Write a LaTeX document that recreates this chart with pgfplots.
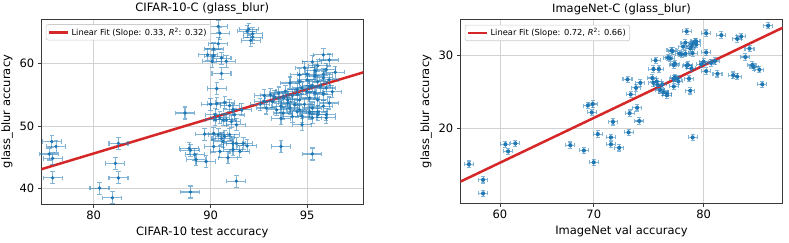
\documentclass[border=0pt]{standalone}
\usepackage{fontspec}
\setmainfont{DejaVu Sans}
\usepackage{pgfplots}
\pgfplotsset{compat=1.18}
\definecolor{tabblue}{HTML}{1F77B4}
\definecolor{tabred}{HTML}{D62728}
\definecolor{gridgray}{HTML}{D2D2D2}
\definecolor{frame}{HTML}{3A3A3A}
\newcommand\mainfs{\fontsize{11.5}{13.8}\selectfont}
\newcommand\legfs{\fontsize{8.3}{10}\selectfont}
% probit (inverse normal CDF) of a percentage, Abramowitz-Stegun 26.2.23
\newcommand\probitval[1]{%
  \begingroup
  \pgfkeys{/pgf/fpu=true,/pgf/fpu/output format=fixed}%
  \pgfmathparse{#1/100}\let\prP\pgfmathresult
  \pgfmathparse{\prP<0.5 ? \prP : 1-\prP}\let\prQ\pgfmathresult
  \pgfmathparse{sqrt(-2*ln(\prQ))}\let\prT\pgfmathresult
  \pgfmathparse{(\prP<0.5 ? -1 : 1)*(\prT-(2.515517+0.802853*\prT+0.010328*\prT*\prT)/(1+1.432788*\prT+0.189269*\prT*\prT+0.001308*\prT*\prT*\prT))}%
  \pgfmathsmuggle\pgfmathresult
  \endgroup}
% point with error-bar cross (sizes in pt)
\pgfdeclareplotmark{errA}{%
  \pgfsetlinewidth{1.1pt}\pgfsetstrokeopacity{0.55}%
  \pgfpathmoveto{\pgfqpoint{-9.5pt}{0pt}}\pgfpathlineto{\pgfqpoint{9.5pt}{0pt}}%
  \pgfpathmoveto{\pgfqpoint{-9.5pt}{-2.2pt}}\pgfpathlineto{\pgfqpoint{-9.5pt}{2.2pt}}%
  \pgfpathmoveto{\pgfqpoint{9.5pt}{-2.2pt}}\pgfpathlineto{\pgfqpoint{9.5pt}{2.2pt}}%
  \pgfpathmoveto{\pgfqpoint{0pt}{-6pt}}\pgfpathlineto{\pgfqpoint{0pt}{6pt}}%
  \pgfpathmoveto{\pgfqpoint{-2.2pt}{-6pt}}\pgfpathlineto{\pgfqpoint{2.2pt}{-6pt}}%
  \pgfpathmoveto{\pgfqpoint{-2.2pt}{6pt}}\pgfpathlineto{\pgfqpoint{2.2pt}{6pt}}%
  \pgfusepathqstroke
  \pgfsetstrokeopacity{1}%
  \pgfpathcircle{\pgfpointorigin}{1.9pt}\pgfusepathqfill}
\pgfdeclareplotmark{errB}{%
  \pgfsetlinewidth{1.1pt}\pgfsetstrokeopacity{0.55}%
  \pgfpathmoveto{\pgfqpoint{-4.5pt}{0pt}}\pgfpathlineto{\pgfqpoint{4.5pt}{0pt}}%
  \pgfpathmoveto{\pgfqpoint{-4.5pt}{-2pt}}\pgfpathlineto{\pgfqpoint{-4.5pt}{2pt}}%
  \pgfpathmoveto{\pgfqpoint{4.5pt}{-2pt}}\pgfpathlineto{\pgfqpoint{4.5pt}{2pt}}%
  \pgfpathmoveto{\pgfqpoint{0pt}{-3.2pt}}\pgfpathlineto{\pgfqpoint{0pt}{3.2pt}}%
  \pgfpathmoveto{\pgfqpoint{-2pt}{-3.2pt}}\pgfpathlineto{\pgfqpoint{2pt}{-3.2pt}}%
  \pgfpathmoveto{\pgfqpoint{-2pt}{3.2pt}}\pgfpathlineto{\pgfqpoint{2pt}{3.2pt}}%
  \pgfusepathqstroke
  \pgfsetstrokeopacity{1}%
  \pgfpathcircle{\pgfpointorigin}{2.1pt}\pgfusepathqfill}
\pgfplotsset{
  myax/.style={
    scale only axis, enlargelimits=false,
    x coord trafo/.code={\probitval{##1}},
    y coord trafo/.code={\probitval{##1}},
    axis line style={frame, line width=0.8pt},
    grid=major, major grid style={gridgray, line width=0.9pt},
    tick align=outside, major tick length=3.5pt,
    tick style={frame, line width=0.8pt},
    xtick pos=left, ytick pos=left,
    tick label style={font=\mainfs},
    label style={font=\mainfs},
    title style={font=\mainfs, yshift=-5pt},
    legend cell align=left,
    legend style={at={(0.014,0.972)}, anchor=north west, font=\legfs,
      draw={rgb,255:red,204;green,204;blue,204}, rounded corners=2pt,
      inner xsep=2pt, inner ysep=1.5pt, line width=0.6pt},
    legend image code/.code={\draw[##1] (0pt,0pt) -- (19pt,0pt);},
  }
}
\pgfplotstableread{
x y
75.3 47.5
75.8 46.7
75.0 45.5
75.4 44.8
75.4 41.7
82.5 47.2
82.2 44.0
82.5 41.7
80.6 40.1
81.9 38.6
88.2 52.1
88.5 46.4
88.6 46.1
88.9 45.4
89.0 44.6
89.7 44.3
88.6 39.5
89.6 48.7
90.5 65.6
90.6 64.6
90.5 63.0
90.2 62.2
90.2 61.1
90.1 60.3
90.7 60.8
91.0 60.3
90.7 58.4
89.8 61.3
92.3 65.2
92.5 64.5
92.4 63.5
92.2 64.9
92.5 64.0
90.4 56.0
90.0 53.5
90.4 53.6
90.9 53.8
91.2 53.3
91.4 52.6
90.3 51.8
90.6 51.3
91.0 51.0
91.3 50.7
91.5 51.8
91.6 50.2
91.9 52.6
90.2 48.8
90.5 48.6
90.7 48.0
90.9 48.3
91.2 48.6
91.4 47.2
91.6 47.2
92.0 47.2
91.8 45.9
92.2 46.8
90.6 45.9
91.1 44.9
91.4 46.2
91.6 41.2
90.2 46.7
90.8 47.5
90.3 51.0
90.8 51.0
93.9 46.7
95.2 45.5
94.8 50.2
93.9 51.2
94.4 51.5
95.1 52.3
95.4 52.3
95.7 51.8
95.6 61.3
95.8 60.5
95.2 60.2
95.4 59.6
95.7 59.0
94.9 59.3
96.0 58.6
94.7 58.2
95.3 58.0
95.6 57.7
95.8 57.4
95.0 57.4
94.7 57.1
94.3 56.9
95.2 56.5
95.5 56.4
95.7 56.1
94.8 56.1
94.6 55.8
94.1 55.6
93.8 55.3
93.4 55.0
93.1 54.9
93.6 54.7
94.0 54.5
94.4 54.9
95.0 55.5
95.3 55.3
95.6 55.1
95.9 55.5
95.1 54.5
95.4 54.2
94.7 54.2
94.2 53.7
94.5 53.4
93.5 53.9
93.1 54.0
93.9 53.2
94.9 53.5
95.2 52.9
95.6 53.2
95.8 53.7
93.7 52.6
94.3 52.9
94.7 52.6
95.1 52.1
95.4 51.8
95.7 51.3
95.2 51.3
94.8 51.6
94.6 52.3
94.0 52.1
93.2 52.9
95.3 58.8
95.0 58.3
95.6 58.3
95.4 57.1
95.1 56.3
94.6 55.1
94.2 54.2
92.9 53.5
}\cifar
\pgfplotstableread{
x y
56.5 15.9
58.1 14.3
58.1 13.0
60.6 18.1
61.7 18.2
60.9 17.3
67.6 18.0
69.0 17.4
69.4 22.9
69.9 23.1
69.8 22.0
70.0 16.1
70.4 19.3
71.7 18.9
71.7 18.1
71.9 20.8
72.5 17.7
73.4 19.5
73.5 21.9
73.6 24.4
73.3 26.5
74.2 22.6
74.4 20.9
74.1 25.3
74.5 26.0
79.1 18.9
75.7 28.0
75.6 26.7
75.9 29.3
76.2 28.0
75.7 26.0
76.0 26.2
76.1 25.7
76.3 25.0
76.6 24.7
76.9 24.3
76.5 25.8
77.0 29.7
77.2 29.6
77.4 30.7
77.5 28.6
77.5 26.6
77.8 26.6
77.5 25.5
77.9 26.2
78.2 30.2
78.3 31.4
78.6 33.8
78.7 28.6
78.8 26.6
78.9 24.9
78.9 31.1
79.0 28.1
79.1 30.4
79.4 32.2
79.4 31.7
79.1 31.8
79.0 31.4
79.8 28.7
80.0 29.1
80.2 33.5
80.2 30.5
80.2 27.7
80.6 28.9
80.9 29.2
81.1 27.3
81.4 33.2
82.3 27.1
82.6 26.9
82.6 32.6
82.9 33.0
83.5 31.1
83.2 29.8
83.7 28.6
83.8 28.3
84.2 27.9
84.4 25.8
84.8 34.7
77.3 30.8
77.6 28.8
78.5 32.0
79.3 32.2
78.5 30.3
78.0 30.3
78.6 28.5
76.9 24.5
77.6 26.8
}\imagenet
\begin{document}
\begin{tikzpicture}
\path[use as bounding box] (0,0) rectangle (789pt,242pt);
\begin{axis}[myax, at={(41.3pt,38pt)}, anchor=south west,
  width=322pt, height=185pt,
  xmin=74.03, xmax=96.83, ymin=37.65, ymax=66.7,
  xtick={80,90,95}, xticklabels={80,90,95},
  ytick={40,50,60}, yticklabels={40,50,60},
  title={CIFAR-10-C (glass\_blur)},
  xlabel={CIFAR-10 test accuracy},
  ylabel={glass\_blur accuracy}]
\addplot[only marks, mark=errA, color=tabblue, forget plot] table[x=x,y=y] {\cifar};
\addplot[color=tabred, line width=2.5pt] coordinates {(74.03,43.07) (96.83,58.57)};
\addlegendentry{Linear Fit (Slope: 0.33, \textit{R}\textsuperscript{2}: 0.32)}
\end{axis}
\begin{axis}[myax, at={(460.3pt,38.7pt)}, anchor=south west,
  width=322.4pt, height=183.6pt,
  xmin=55.51, xmax=85.77, ymin=12.11, ymax=35.68,
  xtick={60,70,80}, xticklabels={60,70,80},
  ytick={20,30}, yticklabels={20,30},
  title={ImageNet-C (glass\_blur)},
  xlabel={ImageNet val accuracy},
  ylabel={glass\_blur accuracy}]
\addplot[only marks, mark=errB, color=tabblue, forget plot] table[x=x,y=y] {\imagenet};
\addplot[color=tabred, line width=2.5pt] coordinates {(55.51,14.12) (85.77,34.38)};
\addlegendentry{Linear Fit (Slope: 0.72, \textit{R}\textsuperscript{2}: 0.66)}
\end{axis}
\end{tikzpicture}
\end{document}
